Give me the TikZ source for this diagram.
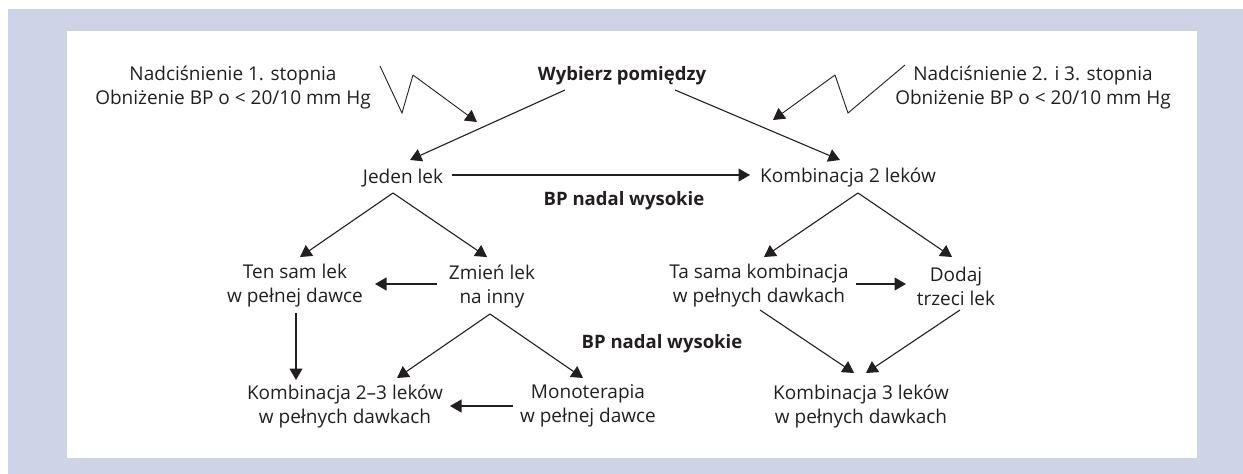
\documentclass[tikz,border=0pt]{standalone}
\usepackage{fontspec}
\setmainfont{Open Sans}
\usetikzlibrary{arrows.meta}
\definecolor{lav}{RGB}{206,211,231}
\definecolor{txt}{RGB}{35,31,32}
\tikzset{
  lbl/.style={align=center, inner sep=0pt, text=txt, font=\fontsize{19}{24}\selectfont},
  hd/.style={lbl, font=\fontsize{18.5}{24}\selectfont\bfseries},
  arr/.style={line width=1.1pt, draw=txt, -{Triangle[length=11.5pt,width=13pt]}},
  zz/.style={line width=0.9pt, draw=txt}
}
\begin{document}
\begin{tikzpicture}[x=1pt,y=-1pt]
\useasboundingbox (0,0) rectangle (1243,474);
\fill[lav] (8,9) rectangle (1243,474);
\fill[white] (67,31) rectangle (1197,458);

\node[lbl] (n1) at (233,88) {Nadciśnienie 1. stopnia\\Obniżenie BP o < 20/10 mm Hg};
\node[lbl] (n2) at (1033,88) {Nadciśnienie 2. i 3. stopnia\\Obniżenie BP o < 20/10 mm Hg};
\node[hd] (wyb) at (622,76) {Wybierz pomiędzy};
\node[lbl] (jeden) at (403,178) {Jeden lek};
\node[lbl] (k2) at (848,178) {Kombinacja 2 leków};
\node[hd] (bp1) at (624,201) {BP nadal wysokie};
\node[lbl] (ten) at (295,286) {Ten sam lek\\w pełnej dawce};
\node[lbl] (zm) at (492,286) {Zmień lek\\na inny};
\node[hd] (bp2) at (662,344) {BP nadal wysokie};
\node[lbl] (k23) at (345,406) {Kombinacja 2–3 leków\\w pełnych dawkach};
\node[lbl] (mono) at (588,406) {Monoterapia\\w pełnej dawce};
\node[lbl] (ts) at (759,286) {Ta sama kombinacja\\w pełnych dawkach};
\node[lbl] (dd) at (956,286) {Dodaj\\trzeci lek};
\node[lbl] (k3) at (861,406) {Kombinacja 3 leków\\w pełnych dawkach};

% zigzags
\coordinate (z1a) at ([shift={(147,-22)}]n1.center);
\coordinate (z1b) at (402,113);
\coordinate (z1c) at (413,75);
\coordinate (z1d) at (477,122);
\draw[zz] (z1a) -- (z1b) -- (z1c);
\draw[arr,line width=0.9pt] (z1c) -- (z1d);
\coordinate (z2a) at ([shift={(-128,-23)}]n2.center);
\coordinate (z2b) at (848,113);
\coordinate (z2c) at (835,75);
\coordinate (z2d) at (773,120);
\draw[zz] (z2a) -- (z2b) -- (z2c);
\draw[arr,line width=0.9pt] (z2c) -- (z2d);

\draw[arr] ([shift={(-57,14)}]wyb.center) -- ([shift={(7,-18)}]jeden.center);
\draw[arr] ([shift={(53,14)}]wyb.center) -- ([shift={(-8,-18)}]k2.center);
\draw[arr] ([shift={(49,-3)}]jeden.center) -- ([shift={(-98,-3)}]k2.center);
\draw[arr] ([shift={(-10,15)}]jeden.center) -- ([shift={(5,-29)}]ten.center);
\draw[arr] ([shift={(-10,15)}]jeden.center) -- ([shift={(-5,-29)}]zm.center);
\draw[arr] ([shift={(-55,-2)}]zm.center) -- ([shift={(80,-2)}]ten.center);
\draw[arr] ([shift={(1,27)}]ten.center) -- ([shift={(-49,-26)}]k23.center);
\draw[arr] ([shift={(-2,28)}]zm.center) -- ([shift={(52,-28)}]k23.center);
\draw[arr] ([shift={(-2,28)}]zm.center) -- ([shift={(-5,-28)}]mono.center);
\draw[arr] ([shift={(-75,0)}]mono.center) -- ([shift={(105,0)}]k23.center);
\draw[arr] ([shift={(10,15)}]k2.center) -- ([shift={(5,-29)}]ts.center);
\draw[arr] ([shift={(10,15)}]k2.center) -- ([shift={(-4,-29)}]dd.center);
\draw[arr] ([shift={(97,-2)}]ts.center) -- ([shift={(-50,-2)}]dd.center);
\draw[arr] ([shift={(1,24)}]ts.center) -- ([shift={(-7,-33)}]k3.center);
\draw[arr] ([shift={(4,24)}]dd.center) -- ([shift={(5,-33)}]k3.center);
\end{tikzpicture}
\end{document}
